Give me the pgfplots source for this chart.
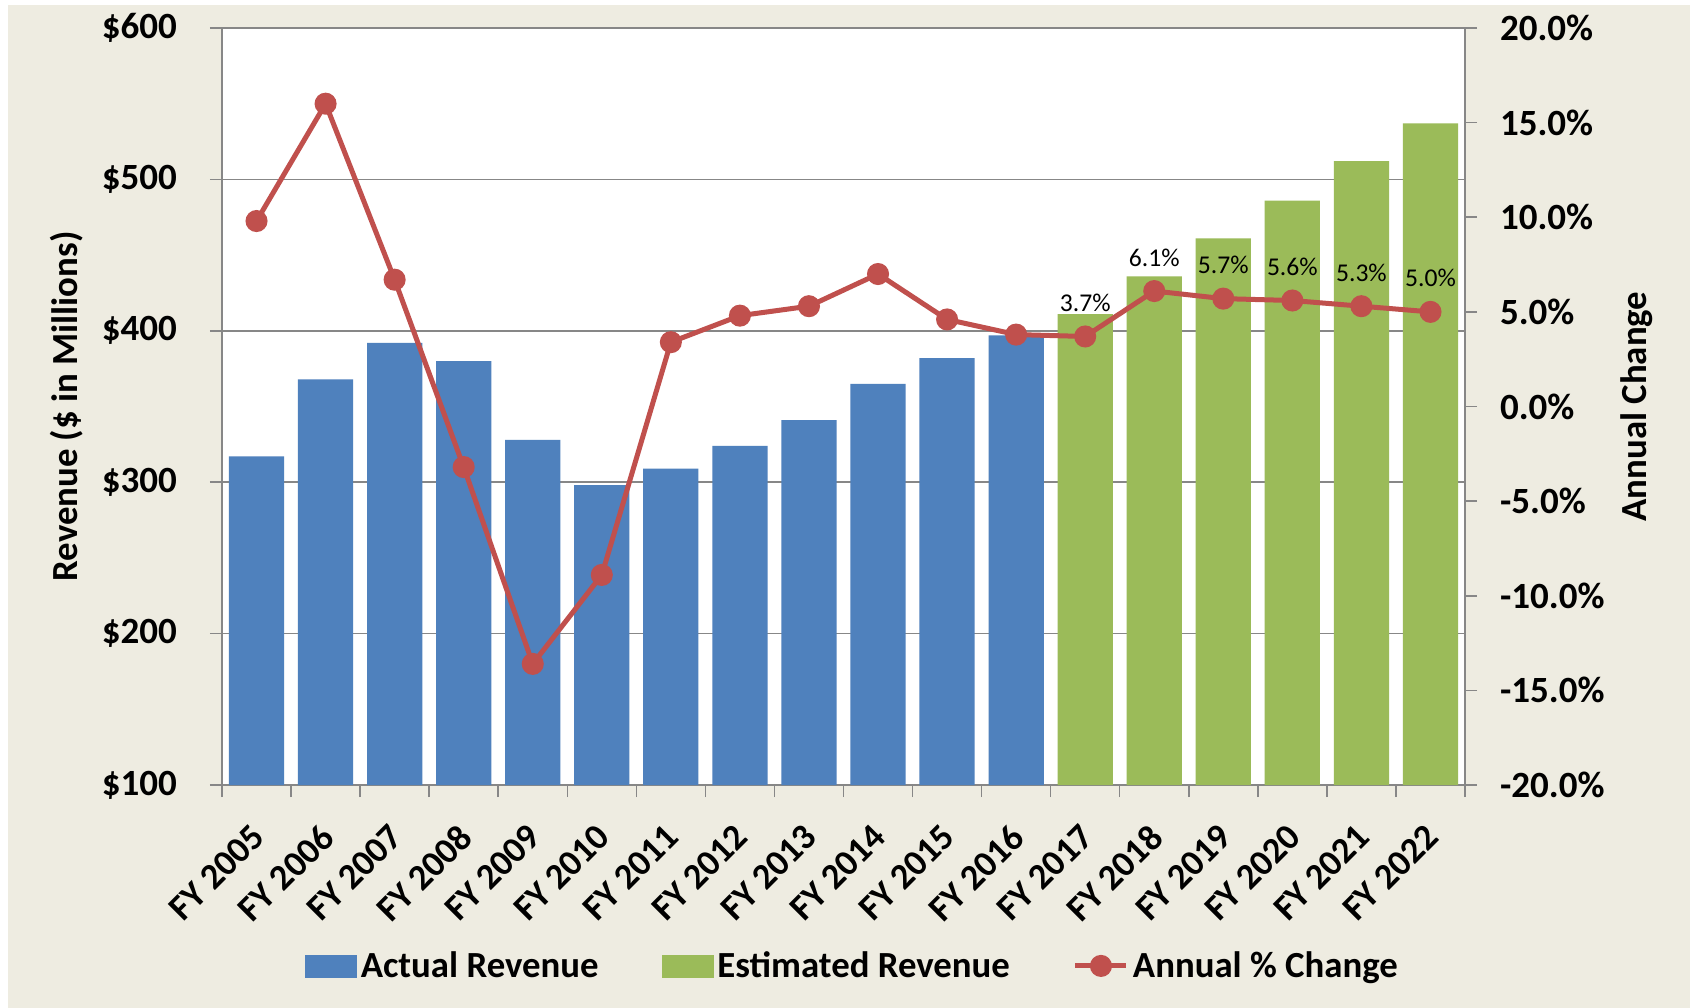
\documentclass[border=0pt]{standalone}
\usepackage{fontspec}
\setmainfont{Carlito}
\usepackage{pgfplots}
\pgfplotsset{compat=1.18}

\definecolor{bgtan}{HTML}{EEECE1}
\definecolor{actblue}{HTML}{4F81BD}
\definecolor{estgreen}{HTML}{9BBB59}
\definecolor{chgred}{HTML}{C0504D}
\definecolor{axgray}{HTML}{878787}

\newcommand{\tickfont}{\fontsize{18.5bp}{22bp}\selectfont\bfseries}
\newcommand{\labfont}{\fontsize{18.4bp}{22bp}\selectfont\bfseries}

\pgfplotsset{
  common/.style={
    width=621.5bp, height=378.5bp, scale only axis,
    at={(0,0)}, anchor=south west,
    xmin=-0.5, xmax=17.5,
    tick align=outside,
    major tick length=6bp,
    every tick/.style={axgray, line width=0.75bp},
    axis line style={axgray, line width=0.75bp},
    tick label style={font=\tickfont},
  },
}

\begin{document}
\begin{tikzpicture}
\path[use as bounding box, fill=white] (-111bp,-111.5bp) rectangle (734bp,392.5bp);
\fill[bgtan] (-107bp,-111.5bp) rectangle (734bp,390bp);

% revenue bars, left axis
\begin{axis}[
  common,
  axis background/.style={fill=white},
  ymin=100, ymax=600,
  ytick={100,200,300,400,500,600},
  yticklabels={\$100,\$200,\$300,\$400,\$500,\$600},
  ytick pos=left,
  yticklabel style={xshift=-13bp},
  ymajorgrids,
  grid style={axgray, line width=0.75bp},
  xtick={0,...,17},
  xticklabels={FY 2005,FY 2006,FY 2007,FY 2008,FY 2009,FY 2010,FY 2011,FY 2012,FY 2013,FY 2014,FY 2015,FY 2016,FY 2017,FY 2018,FY 2019,FY 2020,FY 2021,FY 2022},
  xtick pos=bottom,
  major x tick style={draw=none},
  minor xtick={-0.5,0.5,...,17.5},
  minor tick length=6bp,
  xticklabel style={font=\fontsize{18.2bp}{21bp}\selectfont\bfseries, inner sep=0pt,
    xshift=-3.5bp, yshift=-12.5bp, rotate=45, anchor=north east},
  ylabel={Revenue (\$ in Millions)},
  every axis y label/.style={at={(axis description cs:-0.1247,0.5)}, rotate=90, anchor=center, font=\labfont},
  ybar, bar width=0.8, /pgf/bar shift=0pt,
]
\addplot[fill=actblue, draw=none] coordinates {
  (0,317) (1,368) (2,392) (3,380) (4,328) (5,298)
  (6,309) (7,324) (8,341) (9,365) (10,382) (11,397)};
\addplot[fill=estgreen, draw=none] coordinates {
  (12,411) (13,436) (14,461) (15,486) (16,512) (17,537)};
\end{axis}

% annual change line, right axis
\begin{axis}[
  common,
  axis x line=none,
  axis y line*=right,
  ymin=-20, ymax=20,
  ytick={-20,-15,...,20},
  yticklabels={-20.0\%,-15.0\%,-10.0\%,-5.0\%,0.0\%,5.0\%,10.0\%,15.0\%,20.0\%},
  yticklabel style={xshift=8bp},
  ylabel={Annual Change},
  every axis y label/.style={at={(axis description cs:1.1384,0.5)}, rotate=90, anchor=center, font=\labfont},
  legend columns=3,
  legend style={at={(0.508,-0.239)}, anchor=center, draw=none, fill=none,
    font=\labfont, inner sep=0pt,
    /tikz/every even column/.append style={column sep=29.5bp}},
  legend cell align=left,
]
\addlegendimage{legend image code/.code={\fill[actblue] (0bp,-5.5bp) rectangle (25.5bp,5.5bp);}}
\addlegendentry{Actual Revenue}
\addlegendimage{legend image code/.code={\fill[estgreen] (0bp,-5.5bp) rectangle (25.5bp,5.5bp);}}
\addlegendentry{Estimated Revenue}
\addplot[chgred, line width=2.5bp, mark=*, mark size=4.25bp,
  legend image code/.code={\draw[chgred, line width=2.5bp] (0bp,0bp) -- (25.5bp,0bp);
    \fill[chgred] (12.75bp,0bp) circle (4.25bp);}]
  coordinates {
  (0,9.8) (1,16.0) (2,6.7) (3,-3.2) (4,-13.6) (5,-8.9)
  (6,3.4) (7,4.8) (8,5.3) (9,7.0) (10,4.6) (11,3.8)
  (12,3.7) (13,6.1) (14,5.7) (15,5.6) (16,5.3) (17,5.0)};
\addlegendentry{Annual \% Change}
\addplot[draw=none, mark=none, forget plot,
  point meta=explicit symbolic, nodes near coords,
  every node near coord/.style={anchor=base, yshift=12.5bp, font=\fontsize{12.8bp}{15bp}\selectfont, text=black}]
  coordinates {
  (12,3.7) [3.7\%] (13,6.1) [6.1\%] (14,5.7) [5.7\%]
  (15,5.6) [5.6\%] (16,5.3) [5.3\%] (17,5.0) [5.0\%]};
\end{axis}
\end{tikzpicture}
\end{document}
